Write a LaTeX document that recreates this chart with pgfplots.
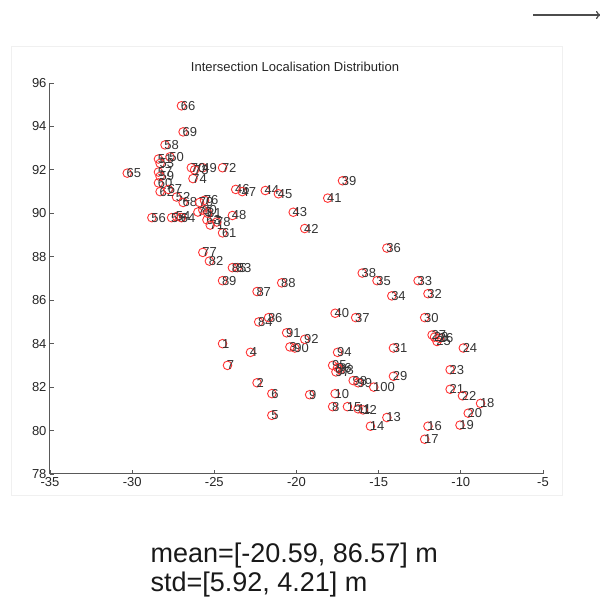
\documentclass[border=0pt]{standalone}
\usepackage{fontspec}
\setmainfont{Liberation Sans}
\usepackage{pgfplots}
\pgfplotsset{compat=1.18}
\usetikzlibrary{arrows.meta}
\pgfplotstableread{
x y label
-24.5 84.0 1
-22.4 82.2 2
-20.4 83.85 3
-22.8 83.6 4
-21.5 80.7 5
-21.5 81.7 6
-24.2 83.0 7
-17.8 81.1 8
-19.2 81.65 9
-17.65 81.7 10
-16.25 81.0 11
-15.95 80.95 12
-14.5 80.6 13
-15.5 80.2 14
-16.9 81.1 15
-12.0 80.2 16
-12.2 79.6 17
-8.8 81.25 18
-10.05 80.25 19
-9.55 80.8 20
-10.65 81.9 21
-9.9 81.6 22
-10.65 82.8 23
-9.85 83.8 24
-11.45 84.1 25
-11.3 84.25 26
-11.75 84.4 27
-11.6 84.3 28
-14.1 82.5 29
-12.2 85.2 30
-14.1 83.8 31
-12.0 86.3 32
-12.6 86.9 33
-14.2 86.2 34
-15.1 86.9 35
-14.5 88.4 36
-16.4 85.2 37
-16.0 87.25 38
-17.2 91.5 39
-17.65 85.4 40
-18.1 90.7 41
-19.5 89.3 42
-20.2 90.05 43
-21.9 91.05 44
-21.1 90.9 45
-23.7 91.1 46
-23.3 91.0 47
-23.9 89.9 48
-25.7 92.1 49
-27.7 92.6 50
-28.4 92.5 51
-27.3 90.75 52
-28.3 92.3 53
-27.3 89.85 54
-27.6 89.8 55
-28.8 89.8 56
-28.4 91.9 57
-28.0 93.15 58
-28.3 91.7 59
-28.4 91.4 60
-24.5 89.1 61
-28.3 91.0 62
-25.45 89.7 63
-27.0 89.8 64
-30.3 91.85 65
-27.0 94.95 66
-27.8 91.1 67
-26.9 90.5 68
-26.9 93.75 69
-26.4 92.1 70
-25.25 89.46 71
-24.5 92.1 72
-26.2 92.0 73
-26.3 91.6 74
-26.0 90.06 75
-25.6 90.6 76
-25.7 88.2 77
-24.85 89.6 78
-25.9 90.5 79
-25.7 90.15 80
-25.4 90.0 81
-25.3 87.8 82
-23.6 87.5 83
-22.3 85.0 84
-23.9 87.5 85
-21.7 85.2 86
-22.4 86.4 87
-20.9 86.8 88
-24.5 86.9 89
-20.1 83.8 90
-20.6 84.5 91
-19.5 84.2 92
-17.35 82.8 93
-17.5 83.6 94
-17.8 83.0 95
-17.5 82.9 96
-17.6 82.7 97
-16.55 82.3 98
-16.25 82.2 99
-15.3 82.0 100
}\pts
\begin{document}
\begin{tikzpicture}[x=1pt,y=1pt]
\useasboundingbox (0,0) rectangle (600,600);
\draw[black!6, line width=1pt] (11,104) rectangle (562,553);
\draw[black!70, line width=1.2pt, -{To[length=5pt,width=8pt]}] (533,585) -- (601,585);
\node[font=\fontsize{13}{13}\selectfont, text=black!85] at (295,533) {Intersection Localisation Distribution};
\begin{axis}[
  at={(50pt,126pt)}, anchor=south west,
  scale only axis, width=493pt, height=391pt,
  xmin=-35, xmax=-5, ymin=78, ymax=96,
  axis x line*=bottom, axis y line*=left,
  axis line style={black!65, line width=1pt},
  xtick={-35,-30,...,-5}, ytick={78,80,...,96},
  tick style={black!65, line width=0.8pt},
  major tick length=4pt,
  tick label style={font=\fontsize{13}{13}\selectfont, text=black!85},
  /pgf/number format/assume math mode=true,
  clip=false,
]
\addplot[only marks, mark=o, mark size=4.3pt, draw=red!80, mark options={line width=0.9pt},
  nodes near coords, point meta=explicit symbolic,
  nodes near coords style={anchor=west, inner sep=0pt, xshift=-1pt, text=black!80, font=\fontsize{13}{13}\selectfont}]
  table[x=x, y=y, meta=label] {\pts};
\end{axis}
\node[anchor=base west, font=\fontsize{27}{27}\selectfont, text=black!90] at (147,37) {mean=[-20.59, 86.57] m};
\node[anchor=base west, font=\fontsize{27}{27}\selectfont, text=black!90] at (147,9) {std=[5.92, 4.21] m};
\end{tikzpicture}
\end{document}
